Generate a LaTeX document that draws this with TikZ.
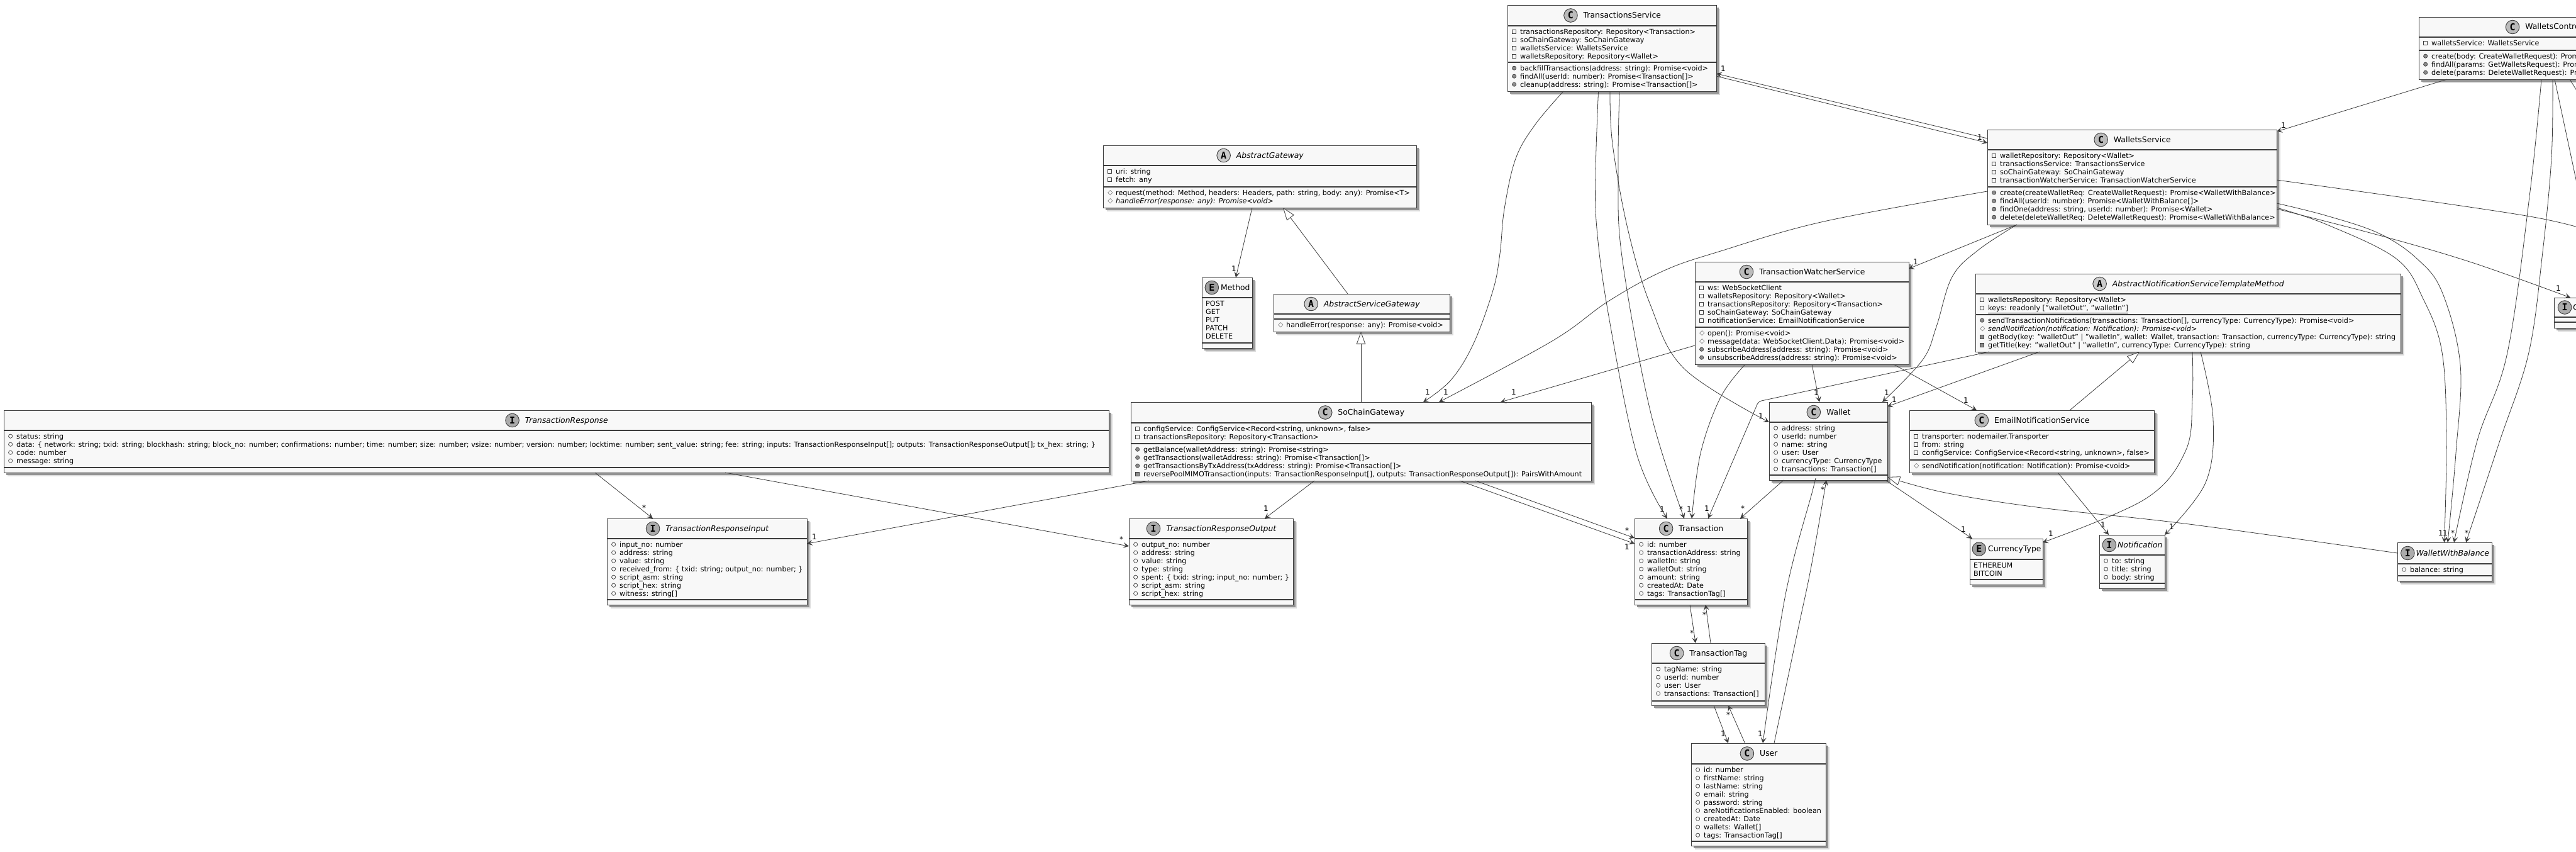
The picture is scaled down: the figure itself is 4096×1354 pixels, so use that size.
\documentclass[tikz,border=0pt]{standalone}
\usepackage{fontspec}
\setmainfont{DejaVu Sans}
\newfontfamily\markfont{DejaVu Sans Mono}
\usetikzlibrary{arrows.meta,shadows}
\definecolor{umlfill}{HTML}{F8F8F8}
\definecolor{umlline}{HTML}{3C3C3C}
\definecolor{markC}{HTML}{BBBBBB}
\definecolor{markA}{HTML}{CCCCCC}
\definecolor{markI}{HTML}{ABABAB}
\definecolor{markE}{HTML}{9E9E9E}
\definecolor{markgray}{HTML}{8C8C8C}
\tikzset{
  umlbox/.style={draw=umlline,line width=1.1pt,fill=umlfill,rectangle,anchor=north west,inner sep=0pt,
    drop shadow={shadow xshift=5pt,shadow yshift=-5pt,fill=black!14,opacity=1},
    drop shadow={shadow xshift=3.5pt,shadow yshift=-3.5pt,fill=black!42,opacity=1}},
  umltitle/.style={anchor=center,inner sep=0pt,font=\fontsize{12.4}{13}\selectfont},
  umlrows/.style={anchor=north west,inner sep=0pt,align=left,font=\fontsize{11.2}{13}\selectfont},
  sepline/.style={draw=umlline,line width=1.1pt},
  conn/.style={draw=umlline,line width=.8pt},
  assoc/.style={conn,-{Stealth[length=9pt,width=9pt,inset=4pt]}},
  inherit/.style={conn,-{Triangle[open,length=20pt,width=14.5pt,fill=white]}},
  mult/.style={inner sep=0pt,font=\fontsize{12}{13}\selectfont},
  mline/.style={draw=markgray,line width=.7pt}
}
% row markers
\newcommand{\mrow}[1]{\rule{0pt}{10pt}\hspace{1pt}\makebox[13pt][l]{\tikz[baseline=-4pt]{#1}}}
\newcommand{\mpriv}{\mrow{\draw[mline,draw=umlline] (0,-3pt) rectangle (6pt,3pt);}}
\newcommand{\mprot}{\mrow{\draw[mline] (0,0) -- (3.7pt,3.7pt) -- (7.4pt,0) -- (3.7pt,-3.7pt) -- cycle;}}
\newcommand{\mpub}{\mrow{\draw[mline,draw=umlline,fill=markgray] (3.2pt,0) circle[radius=3.1pt];}}
\newcommand{\mfield}{\mrow{\draw[mline,draw=umlline] (3.2pt,0) circle[radius=3.1pt];}}
\newcommand{\mhid}{\mrow{\draw[mline,draw=umlline,fill=markgray] (0,-3pt) rectangle (6pt,3pt);}}
\newcommand{\menum}{\rule{0pt}{10pt}}
% letter in the header
\newcommand{\umlmark}[1]{\tikz[baseline=-4pt]{\draw[draw=umlline,line width=.9pt,fill=mark#1] (0,0) circle[radius=10.8pt];
  \node[anchor=center,inner sep=0pt,draw=none,font=\markfont\bfseries\fontsize{15}{15}\selectfont] (umlletter) at (0,0) {#1};}}
% name, letter, position, width, height, end of header, end of fields, title
\newcommand{\umlclass}[8]{
  \node[umlbox,minimum width=#4pt,minimum height=#5pt] (#1) at (#3) {};
  \draw[sepline] ([shift={(0,#6)}]#1.north west) -- ([shift={(0,#6)}]#1.north east);
  \draw[sepline] ([shift={(0,#7)}]#1.north west) -- ([shift={(0,#7)}]#1.north east);
  \node[umltitle] (#1title) at ([shift={(0,#6/2)}]#1.north) {\umlmark{#2}\hspace{9pt}#8};
}
\newcommand{\umlrows}[4]{\node[umlrows] (#1) at ([shift={(6,#3+3)}]#2.north west) {#4};}
\begin{document}
\begin{tikzpicture}[x=1pt,y=-1pt]
\useasboundingbox (0,0) rectangle (4096,1354);
\clip (0,0) rectangle (4096,1354);
% Classes
\umlclass{ts}{C}{2397,8}{332}{137}{33}{91}{TransactionsService}
\umlrows{tsf}{ts}{33}{\mpriv transactionsRepository: Repository<Transaction>\\\mpriv soChainGateway: SoChainGateway\\\mpriv walletsService: WalletsService\\\mpriv walletsRepository: Repository<Wallet>}
\umlrows{tsm}{ts}{91}{\mpub backfillTransactions(address: string): Promise<void>\\\mpub findAll(userId: number): Promise<Transaction[]>\\\mpub cleanup(address: string): Promise<Transaction[]>}
\umlclass{ws}{C}{3160,206}{460}{151}{32}{91}{WalletsService}
\umlrows{wsf}{ws}{32}{\mpriv walletRepository: Repository<Wallet>\\\mpriv transactionsService: TransactionsService\\\mpriv soChainGateway: SoChainGateway\\\mpriv transactionWatcherService: TransactionWatcherService}
\umlrows{wsm}{ws}{91}{\mpub create(createWalletReq: CreateWalletRequest): Promise<WalletWithBalance>\\\mpub findAll(userId: number): Promise<WalletWithBalance[]>\\\mpub findOne(address: string, userId: number): Promise<Wallet>\\\mpub delete(deleteWalletReq: DeleteWalletRequest): Promise<WalletWithBalance>}
\umlclass{wc}{C}{3846,27}{416}{99}{32}{53}{\makebox[110pt][l]{WalletsContro}}
\umlrows{wcf}{wc}{32}{\mpriv walletsService: WalletsService}
\umlrows{wcm}{wc}{53}{\mpub create(body: CreateWalletRequest): Prom\\\mpub findAll(params: GetWalletsRequest): Prom\\\mpub delete(params: DeleteWalletRequest): Pro}
\umlclass{ag}{A}{1754,231}{498}{99}{32}{66}{\itshape AbstractGateway}
\umlrows{agf}{ag}{32}{\mpriv uri: string\\\mpriv fetch: any}
\umlrows{agm}{ag}{66}{\mprot request(method: Method, headers: Headers, path: string, body: any): Promise<T>\\\mprot \itshape handleError(response: any): Promise<void>}
\umlclass{me}{E}{1911,441}{80}{112}{32}{104}{\hspace{-6pt}Method}
\umlrows{mef}{me}{32}{\menum POST\\GET\\PUT\\PATCH\\DELETE}
\umlclass{asg}{A}{2025,467}{280}{60}{32}{40}{\itshape AbstractServiceGateway}
\umlrows{asgm}{asg}{40}{\mprot handleError(response: any): Promise<void>}
\umlclass{sg}{C}{1798,639}{732}{125}{33}{66}{SoChainGateway}
\umlrows{sgf}{sg}{33}{\mpriv configService: ConfigService<Record<string, unknown>, false>\\\mpriv transactionsRepository: Repository<Transaction>}
\umlrows{sgm}{sg}{66}{\mpub getBalance(walletAddress: string): Promise<string>\\\mpub getTransactions(walletAddress: string): Promise<Transaction[]>\\\mpub getTransactionsByTxAddress(txAddress: string): Promise<Transaction[]>\\\mhid reversePoolMIMOTransaction(inputs: TransactionResponseInput[], outputs: TransactionResponseOutput[]): PairsWithAmount}
\umlclass{tr}{I}{6,652}{1757}{99}{32}{91}{\itshape TransactionResponse}
\umlrows{trf}{tr}{32}{\mfield status: string\\\mfield data: \{ network: string; txid: string; blockhash: string; block\_no: number; confirmations: number; time: number; size: number; vsize: number; version: number; locktime: number; sent\_value: string; fee: string; inputs: TransactionResponseInput[]; outputs: TransactionResponseOutput[]; tx\_hex: string; \}\\\mfield code: number\\\mfield message: string}
\umlclass{tri}{I}{965,824}{318}{137}{32}{129}{\itshape TransactionResponseInput}
\umlrows{trif}{tri}{32}{\mfield input\_no: number\\\mfield address: string\\\mfield value: string\\\mfield received\_from: \{ txid: string; output\_no: number; \}\\\mfield script\_asm: string\\\mfield script\_hex: string\\\mfield witness: string[]}
\umlclass{tro}{I}{1795,824}{261}{137}{32}{129}{\itshape TransactionResponseOutput}
\umlrows{trof}{tro}{32}{\mfield output\_no: number\\\mfield address: string\\\mfield value: string\\\mfield type: string\\\mfield spent: \{ txid: string; input\_no: number; \}\\\mfield script\_asm: string\\\mfield script\_hex: string}
\umlclass{tws}{C}{2695,416}{340}{163}{32}{104}{TransactionWatcherService}
\umlrows{twsf}{tws}{32}{\mpriv ws: WebSocketClient\\\mpriv walletsRepository: Repository<Wallet>\\\mpriv transactionsRepository: Repository<Transaction>\\\mpriv soChainGateway: SoChainGateway\\\mpriv notificationService: EmailNotificationService}
\umlrows{twsm}{tws}{104}{\mprot open(): Promise<void>\\\mprot message(data: WebSocketClient.Data): Promise<void>\\\mpub subscribeAddress(address: string): Promise<void>\\\mpub unsubscribeAddress(address: string): Promise<void>}
\umlclass{wa}{C}{2813,639}{188}{124}{32}{116}{Wallet}
\umlrows{waf}{wa}{32}{\mfield address: string\\\mfield userId: number\\\mfield name: string\\\mfield user: User\\\mfield currencyType: CurrencyType\\\mfield transactions: Transaction[]}
\umlclass{en}{C}{3036,652}{389}{99}{32}{79}{EmailNotificationService}
\umlrows{enf}{en}{32}{\mpriv transporter: nodemailer.Transporter\\\mpriv from: string\\\mpriv configService: ConfigService<Record<string, unknown>, false>}
\umlrows{enm}{en}{79}{\mprot sendNotification(notification: Notification): Promise<void>}
\umlclass{an}{A}{3141,435}{676}{124}{32}{65}{\itshape AbstractNotificationServiceTemplateMethod}
\umlrows{anf}{an}{32}{\mpriv walletsRepository: Repository<Wallet>\\\mpriv \underline{keys: readonly ["walletOut", "walletIn"]}}
\umlrows{anm}{an}{65}{\mpub sendTransactionNotifications(transactions: Transaction[], currencyType: CurrencyType): Promise<void>\\\mprot {\itshape sendNotification(notification: Notification): Promise<void>}\\\mhid getBody(key: "walletOut" | "walletIn", wallet: Wallet, transaction: Transaction, currencyType: CurrencyType): string\\\mhid getTitle(key: "walletOut" | "walletIn", currencyType: CurrencyType): string}
\umlclass{cu}{E}{3132,856}{116}{73}{33}{65}{\hspace{-6pt}CurrencyType}
\umlrows{cuf}{cu}{33}{\menum ETHEREUM\\BITCOIN}
\umlclass{no}{I}{3338,850}{104}{85}{32}{77}{\hspace{-7pt}\itshape Notification}
\umlrows{nof}{no}{32}{\mfield to: string\\\mfield title: string\\\mfield body: string}
\umlclass{wb}{I}{3812,862}{150}{61}{34}{53}{\hspace{-7pt}\itshape WalletWithBalance}
\umlrows{wbf}{wb}{34}{\mfield balance: string}
\umlclass{tx}{C}{2599,824}{179}{137}{32}{129}{Transaction}
\umlrows{txf}{tx}{32}{\mfield id: number\\\mfield transactionAddress: string\\\mfield walletIn: string\\\mfield walletOut: string\\\mfield amount: string\\\mfield createdAt: Date\\\mfield tags: TransactionTag[]}
\umlclass{tg}{C}{2626,1022}{180}{99}{32}{92}{TransactionTag}
\umlrows{tgf}{tg}{32}{\mfield tagName: string\\\mfield userId: number\\\mfield user: User\\\mfield transactions: Transaction[]}
\umlclass{us}{C}{2689,1181}{214}{163}{33}{156}{User}
\umlrows{usf}{us}{33}{\mfield id: number\\\mfield firstName: string\\\mfield lastName: string\\\mfield email: string\\\mfield password: string\\\mfield areNotificationsEnabled: boolean\\\mfield createdAt: Date\\\mfield wallets: Wallet[]\\\mfield tags: TransactionTag[]}
\umlclass{cw}{I}{4061,473}{165}{48}{31}{39}{\hspace{-7pt}\itshape\makebox[130pt][l]{C}}
% Ends that leave the page
\coordinate (exitA) at (4130,445);
\coordinate (exitB) at (4120,181);
\coordinate (exitC) at (4140,375);
% Gateways
\draw[assoc] ([shift={(237,99)}]ag.north west) -- ([shift={(54,0)}]me.north west);
\draw[inherit] ([shift={(118,0)}]asg.north west) -- ([shift={(286,99)}]ag.north west);
\draw[inherit] ([shift={(366,0)}]sg.north west) -- ([shift={(139,60)}]asg.north west);
\draw[assoc] ([shift={(940,99)}]tr.north west) -- ([shift={(73,0)}]tri.north west);
\draw[assoc] ([shift={(1147,99)}]tr.north west) -- ([shift={(0,44)}]tro.north west);
\draw[assoc] ([shift={(29,125)}]sg.north west) -- ([shift={(318,40)}]tri.north west);
\draw[assoc] ([shift={(292,125)}]sg.north west) -- ([shift={(216,0)}]tro.north west);
\draw[assoc] ([shift={(523,125)}]sg.north west) -- ([shift={(0,40)}]tx.north west);
\draw[assoc] ([shift={(548,125)}]sg.north west) -- ([shift={(0,31)}]tx.north west);
% Services
\draw[assoc] ([shift={(0,14)}]ws.north west) -- ([shift={(332,109)}]ts.north west);
\draw[assoc] ([shift={(332,113)}]ts.north west) -- ([shift={(0,21)}]ws.north west);
\draw[assoc] ([shift={(45,99)}]wc.north west) -- ([shift={(460,3)}]ws.north west);
\draw[assoc] plot[smooth,tension=.6] coordinates {([shift={(89,137)}]ts.north west) (2441,198) (2410,252) (2392,332) (2385,403) (2374,461) (2343,546) (2307,604) ([shift={(465,0)}]sg.north west)};
\draw[assoc] plot[smooth,tension=.6] coordinates {([shift={(144.5,137)}]ts.north west) (2537,274) (2539,363) (2557,497) (2602,720) ([shift={(52,0)}]tx.north west)};
\draw[assoc] plot[smooth,tension=.6] coordinates {([shift={(178,137)}]ts.north west) (2573,274) (2579,408) (2624,653) ([shift={(79,0)}]tx.north west)};
\draw[assoc] plot[smooth,tension=.6] coordinates {([shift={(163,137)}]ts.north west) (2564,229) (2588,363) (2624,484) (2678,586) ([shift={(0,32)}]wa.north west)};
\draw[assoc] plot[smooth,tension=.6] coordinates {([shift={(0,98)}]ws.north west) (2900,352) (2736,399) (2646,430) (2557,479) (2468,542) ([shift={(490,0)}]sg.north west)};
\draw[assoc] ([shift={(0,133)}]tws.north west) -- ([shift={(588,0)}]sg.north west);
\draw[assoc] ([shift={(47,151)}]ws.north west) -- ([shift={(340,11)}]tws.north west);
\draw[assoc] plot[smooth,tension=.6] coordinates {([shift={(47,151)}]ws.north west) (3146,397) (3104,440) (3079,519) (3057,572) ([shift={(180,0)}]wa.north west)};
\draw[assoc] ([shift={(186,163)}]tws.north west) -- ([shift={(80,0)}]wa.north west);
\draw[assoc] plot[smooth,tension=.6] coordinates {([shift={(80,163)}]tws.north west) (2736,631) (2704,720) ([shift={(91,0)}]tx.north west)};
\draw[assoc] ([shift={(316,163)}]tws.north west) -- ([shift={(107,0)}]en.north west);
% Notifications
\draw[assoc,rounded corners=5pt] ([shift={(22,124)}]an.north west) -- (2796,638) -- ([shift={(117,0)}]tx.north west);
\draw[assoc] ([shift={(102,124)}]an.north west) -- ([shift={(188,7)}]wa.north west);
\draw[inherit] ([shift={(255,0)}]en.north west) -- ([shift={(261,124)}]an.north west);
\draw[assoc] plot[smooth,tension=.6] coordinates {([shift={(345,124)}]an.north west) (3486,633) (3475,717) (3411,793) ([shift={(116,6)}]cu.north west)};
\draw[assoc] plot[smooth,tension=.6] coordinates {([shift={(358,124)}]an.north west) (3519,667) (3507,767) ([shift={(104,0)}]no.north west)};
\draw[assoc] ([shift={(236,99)}]en.north west) -- ([shift={(15,0)}]no.north west);
% Entities
\draw[assoc] ([shift={(185,124)}]wa.north west) -- ([shift={(4,0)}]cu.north west);
\draw[inherit] plot[smooth,tension=.6] coordinates {([shift={(0,17)}]wb.north west) (3481,833) (3246,807) (3093,783) ([shift={(188,119)}]wa.north west)};
\draw[assoc] ([shift={(23,124)}]wa.north west) -- ([shift={(168,0)}]tx.north west);
\draw[assoc] plot[smooth,tension=.6] coordinates {([shift={(73,124)}]wa.north west) (2882,780) (2839,945) ([shift={(114,0)}]us.north west)};
\draw[assoc] plot[smooth,tension=.6] coordinates {([shift={(132,0)}]us.north west) (2859,1000) (2880,900) ([shift={(91,124)}]wa.north west)};
\draw[assoc] ([shift={(88,137)}]tx.north west) -- ([shift={(70,0)}]tg.north west);
\draw[assoc] ([shift={(94,0)}]tg.north west) -- ([shift={(113,137)}]tx.north west);
\draw[assoc] ([shift={(99,99)}]tg.north west) -- ([shift={(59,0)}]us.north west);
\draw[assoc] ([shift={(85.5,0)}]us.north west) -- ([shift={(122,99)}]tg.north west);
% To the right
\draw[assoc] plot[smooth,tension=.6] coordinates {([shift={(460,124)}]ws.north west) (3700,357) (3810,411) (3853,475) (3883,560) (3890,700) ([shift={(74.5,0)}]wb.north west)};
\draw[assoc] plot[smooth,tension=.6] coordinates {([shift={(460,117)}]ws.north west) (3700,343) (3783,371) (3843,411) (3883,464) (3912,580) (3905,720) ([shift={(80,0)}]wb.north west)};
\draw[assoc] plot[smooth,tension=.6] coordinates {([shift={(195,99)}]wc.north west) (4023,304) (3987,560) (3939,700) ([shift={(90,0)}]wb.north west)};
\draw[assoc] plot[smooth,tension=.6] coordinates {([shift={(213,99)}]wc.north west) (4057,250) (4043,400) (4021,560) (3975,700) ([shift={(109,0)}]wb.north west)};
\draw[conn] ([shift={(216,99)}]wc.north west) -- (exitA);
\draw[conn] ([shift={(240,99)}]wc.north west) -- (exitB);
\draw[conn] plot[smooth,tension=.6] coordinates {([shift={(460,80)}]ws.north west) (4017,343) (exitC)};
\draw[assoc] plot[smooth,tension=.6] coordinates {([shift={(460,126)}]ws.north west) (3787,375) (3933,418) ([shift={(26,0)}]cw.north west)};
% Multiplicities
\node[mult] (m1) at (1962,427) {1};
\node[mult] (m2) at (1024,807) {*};
\node[mult] (m3) at (1783,857) {*};
\node[mult] (m4) at (1295,853) {1};
\node[mult] (m5) at (2013,808) {1};
\node[mult] (m6) at (2587,869) {1};
\node[mult] (m7) at (2587,843) {*};
\node[mult] (m8) at (2740,109) {1};
\node[mult] (m9) at (3148,218) {1};
\node[mult] (m10) at (3631,199) {1};
\node[mult] (m11) at (2270,623) {1};
\node[mult] (m12) at (2643,809) {1};
\node[mult] (m13) at (2673,809) {*};
\node[mult] (m14) at (2800,661) {1};
\node[mult] (m15) at (2299,623) {1};
\node[mult] (m16) at (2407,623) {1};
\node[mult] (m17) at (3046,416) {1};
\node[mult] (m18) at (3000,624) {1};
\node[mult] (m19) at (2888,624) {1};
\node[mult] (m20) at (2686,809) {1};
\node[mult] (m21) at (3126,636) {1};
\node[mult] (m22) at (2714,808) {1};
\node[mult] (m23) at (3012,635) {1};
\node[mult] (m24) at (3261,848) {1};
\node[mult] (m25) at (3453,837) {1};
\node[mult] (m26) at (3344,834) {1};
\node[mult] (m27) at (3122,841) {1};
\node[mult] (m28) at (2771,808) {*};
\node[mult] (m29) at (2799,1166) {1};
\node[mult] (m30) at (2898,778) {*};
\node[mult] (m31) at (2690,1006) {*};
\node[mult] (m32) at (2710,977) {*};
\node[mult] (m33) at (2740,1166) {1};
\node[mult] (m34) at (2748,1136) {*};
\node[mult] (m35) at (3881,847) {1};
\node[mult] (m36) at (3888,847) {1};
\node[mult] (m37) at (3900,847) {*};
\node[mult] (m38) at (3922,847) {*};
\node[mult] (m39) at (4068,458) {1};
\end{tikzpicture}
\end{document}
